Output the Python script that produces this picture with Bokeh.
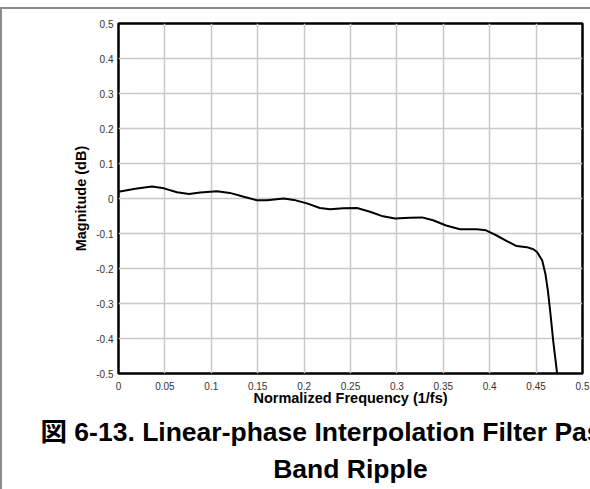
from bokeh.plotting import figure
from bokeh.models import FixedTicker, Title, Range1d, InlineStyleSheet
from bokeh.embed import file_html
from bokeh.resources import INLINE

# ---- data ----
freq = [0.000, 0.018, 0.036, 0.049, 0.063, 0.076, 0.088, 0.106, 0.120, 0.135,
        0.149, 0.160, 0.178, 0.189, 0.203, 0.217, 0.228, 0.242, 0.257, 0.271,
        0.285, 0.298, 0.314, 0.327, 0.339, 0.353, 0.368, 0.386, 0.396, 0.407,
        0.418, 0.429, 0.440, 0.447, 0.451, 0.4566, 0.460, 0.4627, 0.4655,
        0.4684, 0.4727]
mag_db = [0.019, 0.028, 0.034, 0.029, 0.018, 0.013, 0.017, 0.021, 0.016, 0.005,
          -0.005, -0.005, 0.000, -0.004, -0.014, -0.027, -0.031, -0.028, -0.027,
          -0.038, -0.051, -0.057, -0.055, -0.054, -0.062, -0.077, -0.088, -0.088,
          -0.091, -0.105, -0.121, -0.136, -0.139, -0.145, -0.153, -0.177, -0.215,
          -0.263, -0.330, -0.406, -0.501]

x_ticks = [0, 0.05, 0.1, 0.15, 0.2, 0.25, 0.3, 0.35, 0.4, 0.45, 0.5]
x_tick_labels = ["0", "0.05", "0.1", "0.15", "0.2", "0.25", "0.3", "0.35", "0.4", "0.45", "0.5"]
y_ticks = [0.5, 0.4, 0.3, 0.2, 0.1, 0, -0.1, -0.2, -0.3, -0.4, -0.5]
y_tick_labels = ["0.5", "0.4", "0.3", "0.2", "0.1", "0", "-0.1", "-0.2", "-0.3", "-0.4", "-0.5"]

x_label = "Normalized Frequency (1/fs)"
y_label = "Magnitude (dB)"
caption_1 = "図 6-13. Linear-phase Interpolation Filter Pass-"
caption_2 = "Band Ripple"

FONT = "Liberation Sans, Noto Sans CJK JP, sans-serif"

p = figure(width=590, height=489, output_backend="svg", toolbar_location=None,
           x_range=Range1d(0, 0.5), y_range=Range1d(-0.5, 0.5),
           min_border_left=118, min_border_right=8, min_border_top=23,
           min_border_bottom=116)

p.background_fill_color = "white"
p.border_fill_color = "white"
p.outline_line_color = "black"
p.outline_line_width = 2.5

for ax in (p.xaxis[0], p.yaxis[0]):
    ax.axis_line_color = None
    ax.major_tick_line_color = None
    ax.minor_tick_line_color = None
    ax.major_tick_out = 0
    ax.major_tick_in = 0
    ax.major_label_text_font = FONT
    ax.major_label_text_font_size = "10px"
    ax.major_label_text_color = "#333333"
    ax.axis_label_text_font = FONT
    ax.axis_label_text_font_size = "14.5px"
    ax.axis_label_text_font_style = "bold"
    ax.axis_label_text_color = "black"

p.xaxis.ticker = FixedTicker(ticks=x_ticks)
p.xaxis.major_label_overrides = {t: s for t, s in zip(x_ticks, x_tick_labels)}
p.yaxis.ticker = FixedTicker(ticks=y_ticks)
p.yaxis.major_label_overrides = {t: s for t, s in zip(y_ticks, y_tick_labels)}
p.xaxis.axis_label = x_label
p.yaxis.axis_label = y_label
p.xaxis.major_label_standoff = 8
p.yaxis.major_label_standoff = 5
p.xaxis.axis_label_standoff = -3
p.yaxis.axis_label_standoff = 4

p.xgrid.grid_line_color = "#c8c8c8"
p.ygrid.grid_line_color = "#c8c8c8"
p.xgrid.grid_line_width = 1.5
p.ygrid.grid_line_width = 1.5

p.line(freq, mag_db, line_color="black", line_width=2)

# thin grey document-box edges (top and left), as in the reference page
p.stylesheets = [InlineStyleSheet(css="""
:host::before { content: ""; position: absolute; left: 0; top: 7px;
  width: 590px; height: 2px; background: #8c8c8c; z-index: 100; pointer-events: none; }
:host::after { content: ""; position: absolute; left: 0; top: 7px;
  width: 2px; height: 482px; background: #8c8c8c; z-index: 100; pointer-events: none; }
""")]

# caption (below the chart)
t1 = Title(text=caption_1, align="left", offset=-78, standoff=12,
           text_font=FONT, text_font_size="26.5px", text_font_style="bold",
           text_color="black")
t2 = Title(text=caption_2, align="center", offset=-17, standoff=-1,
           text_font=FONT, text_font_size="26.5px", text_font_style="bold",
           text_color="black")
p.add_layout(t1, "below")
p.add_layout(t2, "below")

open("out.html", "w").write(file_html(p, INLINE))
